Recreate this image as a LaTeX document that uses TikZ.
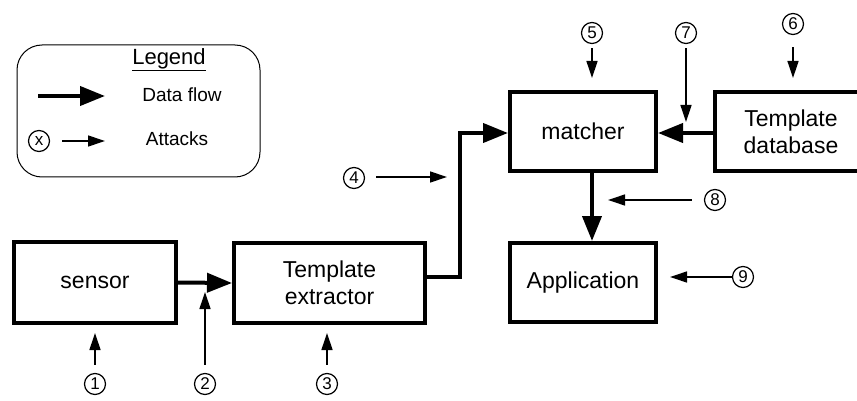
\documentclass[tikz,border=0pt]{standalone}
\usepackage{fontspec}
\setmainfont{Liberation Sans}
\usetikzlibrary{arrows.meta}
\tikzset{
  box/.style={draw, line width=4pt, inner sep=0pt, align=center,
    font=\fontsize{23}{27}\selectfont},
  flow/.style={line width=4pt, -{Triangle[length=25pt,width=19pt]}},
  attack/.style={line width=1.3pt, -{Triangle[length=17pt,width=11pt]}},
  num/.style={draw, circle, line width=1.2pt, minimum size=21pt, inner sep=0pt,
    font=\fontsize{17}{17}\selectfont},
  lbl/.style={font=\fontsize{19}{19}\selectfont, inner sep=0pt}
}
\begin{document}
\begin{tikzpicture}[x=1pt,y=-1pt]
\useasboundingbox (0,0) rectangle (857,401);
\clip (0,0) rectangle (857,401);
% legend
\node[draw, line width=1pt, rounded corners=25pt, minimum width=243pt, minimum height=132pt, inner sep=0pt] (legendbox) at (138.5,111) {};
\node[inner sep=0pt, font=\fontsize{22}{22}\selectfont] (legendtitle) at (169,60) {\underline{Legend}};
\coordinate (lf1) at (38,96);
\coordinate (lf2) at (105,96);
\draw[flow] (lf1) -- (lf2);
\node[lbl] (ldata) at (182,95) {Data flow};
\node[num] (cx) at (39,141) {x};
\coordinate (la2) at (105,141);
\draw[attack, shorten <=12pt] (cx) -- (la2);
\node[lbl] (lattack) at (177,139) {Attacks};
% boxes
\node[box, minimum width=162pt, minimum height=81pt] (sensor) at (95,282.5) {sensor};
\node[box, minimum width=191pt, minimum height=80pt] (extractor) at (329.5,283) {Template\\extractor};
\node[box, minimum width=146pt, minimum height=79pt] (matcher) at (583,131.5) {matcher};
\node[box, minimum width=152pt, minimum height=79pt] (database) at (791,131.5) {Template\\database};
\node[box, minimum width=146pt, minimum height=79pt] (app) at (583,282.5) {Application};
% data flow
\coordinate (j1) at (460,277);
\coordinate (j2) at (460,133);
\coordinate (ax) at (592,0);
\draw[flow] (sensor.east) -- (extractor.west);
\draw[flow] (extractor.east |- j1) -- (j1) -- (j2) -- (matcher.west |- j2);
\draw[flow] (database.west |- j2) -- (matcher.east |- j2);
\draw[flow] (matcher.south -| ax) -- (app.north -| ax);
% attacks
\node[num] (c1) at (95,384) {1};
\node[num] (c2) at (205,384) {2};
\node[num] (c3) at (327,384) {3};
\node[num] (c4) at (354,178) {4};
\node[num] (c5) at (592,33) {5};
\node[num] (c6) at (793,24) {6};
\node[num] (c7) at (686,33) {7};
\node[num] (c8) at (715,200) {8};
\node[num] (c9) at (743,277) {9};
\coordinate (t1) at (95,333);
\coordinate (t2) at (205,292);
\coordinate (t3) at (327,333);
\coordinate (t4) at (447,177);
\coordinate (t5) at (592,78);
\coordinate (t6) at (793,78);
\coordinate (t7) at (686,122);
\coordinate (t8) at (608,200);
\coordinate (t9) at (670,277);
\draw[attack, shorten <=8pt] (c1.north) -- (t1);
\draw[attack, shorten <=8pt] (c2.north) -- (t2);
\draw[attack, shorten <=8pt] (c3.north) -- (t3);
\draw[attack, shorten <=11pt] (c4.east |- t4) -- (t4);
\draw[attack, shorten <=4pt] (c5.south) -- (t5);
\draw[attack, shorten <=12pt] (c6.south) -- (t6);
\draw[attack, shorten <=4pt] (c7.south) -- (t7);
\draw[attack, shorten <=12pt] (c8.west) -- (t8);
\draw[attack] (c9.west) -- (t9);
\end{tikzpicture}
\end{document}
